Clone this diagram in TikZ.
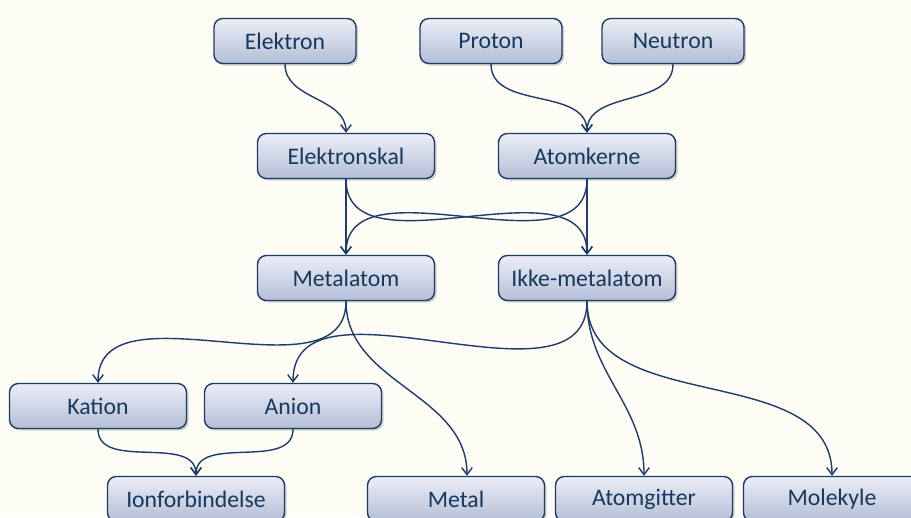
\documentclass[tikz,border=0pt]{standalone}
\usepackage{fontspec}
\setmainfont{Carlito}
\usepackage{xcolor}
\usetikzlibrary{arrows.meta,shadows}
\definecolor{bgcream}{HTML}{FDFDF5}
\definecolor{boxline}{HTML}{1B3A66}
\definecolor{boxtop}{HTML}{EBEEF6}
\definecolor{boxbot}{HTML}{B3BED6}
\definecolor{navytext}{HTML}{17375E}
\definecolor{linkcol}{HTML}{1F3C6C}
\tikzset{
  box/.style={draw=boxline, line width=0.8pt, rounded corners=5pt,
    top color=boxtop, bottom color=boxbot, text=navytext,
    minimum width=3.54cm, minimum height=0.9cm, inner sep=0pt,
    font=\fontsize{13.5}{16}\selectfont,
    drop shadow={opacity=0.35, shadow xshift=1.2pt, shadow yshift=-1.2pt}},
  smallbox/.style={box, minimum width=2.84cm},
  link/.style={draw=linkcol, line width=0.8pt, -{Straight Barb[length=4pt,width=6pt]}},
  sbend/.style={out=-90, in=90}
}
\begin{document}
\begin{tikzpicture}[x=0.02cm, y=-0.02cm]
\fill[bgcream] (0,0) rectangle (911,517);
\useasboundingbox (0,0) rectangle (911,517);
\begin{scope}
\clip (0,0) rectangle (911,517);
\node[smallbox] (elektron) at (285,41) {Elektron};
\node[smallbox] (proton) at (491,41) {Proton};
\node[smallbox] (neutron) at (673,41) {Neutron};
\node[box] (elektronskal) at (346,156) {Elektronskal};
\node[box] (atomkerne) at (587,156) {Atomkerne};
\node[box] (metalatom) at (346,278) {Metalatom};
\node[box] (ikkemetal) at (587,278) {Ikke-metalatom};
\node[box] (kation) at (98,406) {Kation};
\node[box] (anion) at (293,406) {Anion};
\node[box] (ionforb) at (196,499) {Ionforbindelse};
\node[box] (metal) at (456,499) {Metal};
\node[box] (atomgitter) at (644,499) {Atomgitter};
\node[box] (molekyle) at (832,499) {Molekyle};

\draw[link] (elektron.south) to[sbend] (elektronskal.north);
\draw[link] (proton.south) to[sbend] (atomkerne.north);
\draw[link] (neutron.south) to[sbend] (atomkerne.north);
\draw[link] (elektronskal.south) -- (metalatom.north);
\draw[link] (elektronskal.south) to[sbend] (ikkemetal.north);
\draw[link] (atomkerne.south) to[sbend] (metalatom.north);
\draw[link] (atomkerne.south) -- (ikkemetal.north);
\draw[link] (metalatom.south) to[sbend] (kation.north);
\draw[link] (metalatom.south) to[sbend] ([xshift=0.22cm]metal.north);
\draw[link] (ikkemetal.south) to[sbend] (anion.north);
\draw[link] (ikkemetal.south) to[sbend] (atomgitter.north);
\draw[link] (ikkemetal.south) to[sbend] (molekyle.north);
\draw[link] (kation.south) to[sbend] (ionforb.north);
\draw[link] (anion.south) to[sbend] (ionforb.north);
\end{scope}
\end{tikzpicture}
\end{document}
